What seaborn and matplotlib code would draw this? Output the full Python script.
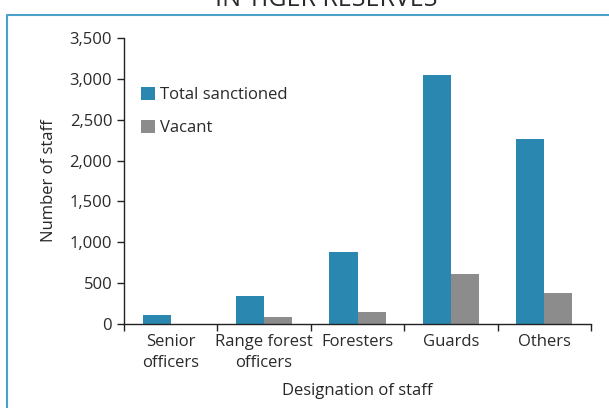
import pandas as pd
import seaborn as sns
import matplotlib.pyplot as plt
from matplotlib.ticker import FixedLocator, FuncFormatter

# Data
designations = ["Senior\nofficers", "Range forest\nofficers", "Foresters", "Guards", "Others"]
total_sanctioned = [110, 345, 880, 3050, 2260]
vacant = [0, 85, 150, 610, 380]
series_names = ["Total sanctioned", "Vacant"]
colors = ["#2a88b0", "#8c8c8c"]

df = pd.DataFrame({
    "Designation": designations * 2,
    "Staff": total_sanctioned + vacant,
    "Series": [series_names[0]] * 5 + [series_names[1]] * 5,
})

sns.set_style("ticks")
plt.rcParams["font.family"] = ["Open Sans", "DejaVu Sans"]
plt.rcParams["text.color"] = "#2a2a2a"

fs = 12
fig = plt.figure(figsize=(6.09, 4.08), dpi=100)
ax = fig.add_axes([124 / 609, 1 - 324 / 408, (591 - 124) / 609, (324 - 38) / 408])

sns.barplot(data=df, x="Designation", y="Staff", hue="Series", palette=colors,
            width=0.6, gap=0, saturation=1, linewidth=0, ax=ax, legend=True)

ax.set_xlim(-0.5, 4.5)
ax.set_ylim(0, 3500)
ax.set_yticks(range(0, 3501, 500))
ax.yaxis.set_major_formatter(FuncFormatter(lambda v, p: f"{int(v):,}"))
ax.tick_params(axis="y", labelsize=fs, labelcolor="#2a2a2a", color="#222222", length=5, width=1)
ax.tick_params(axis="x", which="major", length=0, labelsize=fs, labelcolor="#2a2a2a", pad=7)
ax.xaxis.set_minor_locator(FixedLocator([i - 0.5 for i in range(6)]))
ax.tick_params(axis="x", which="minor", length=5, width=1, color="#222222")
for t in ax.get_xticklabels():
    t.set_linespacing(1.4)

ax.set_xlabel("Designation of staff", fontsize=fs, labelpad=9)
ax.set_ylabel("Number of staff", fontsize=fs, labelpad=9)
for s in ["top", "right"]:
    ax.spines[s].set_visible(False)
for s in ["left", "bottom"]:
    ax.spines[s].set_color("#222222")
    ax.spines[s].set_linewidth(1)

ax.legend(loc="upper left", bbox_to_anchor=(126 / 609, 1 - 72 / 408),
          bbox_transform=fig.transFigure, frameon=False, fontsize=fs,
          handlelength=0.85, handleheight=0.85, handletextpad=0.3, labelspacing=1.0)

# frame and cut-off title
fig.add_artist(plt.Line2D([7 / 609, 7 / 609, 1.0], [0.0, 1 - 15 / 408, 1 - 15 / 408],
                          transform=fig.transFigure, color="#4aa0c8", lw=1.5))
fig.text(326 / 609, 1 - 6 / 408, "IN TIGER RESERVES", ha="center", va="baseline", fontsize=18)

fig.savefig("out.png", dpi=100)
